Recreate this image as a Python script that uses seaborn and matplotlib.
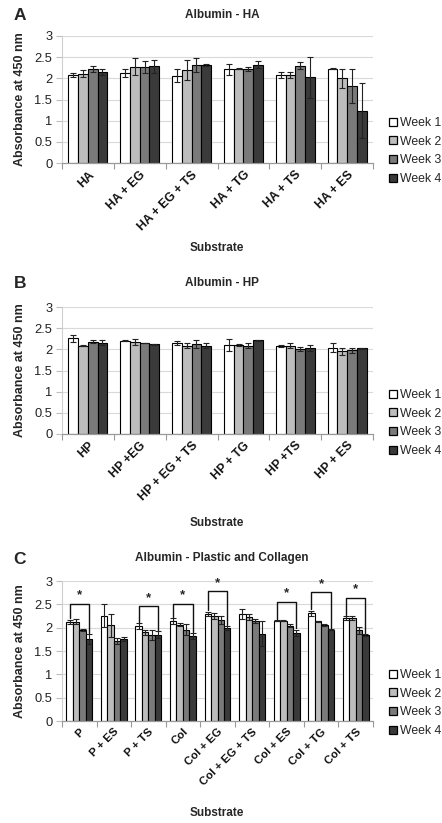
import numpy as np
import pandas as pd
import matplotlib
matplotlib.use("Agg")
import matplotlib.pyplot as plt
import seaborn as sns
from matplotlib.lines import Line2D
from matplotlib.container import BarContainer

sns.set_theme(style="white")
plt.rcParams['font.family'] = ['Liberation Sans', 'DejaVu Sans']

weeks = ["Week 1", "Week 2", "Week 3", "Week 4"]
week_colors = ["#ffffff", "#bdbdbd", "#7a7a7a", "#3a3a3a"]

# Panel A
ha_cats = ["HA", "HA + EG", "HA + EG + TS", "HA + TG", "HA + TS", "HA + ES"]
ha_means = [
    [2.08, 2.12, 2.06, 2.21, 2.08, 2.23],
    [2.11, 2.27, 2.20, 2.23, 2.07, 2.00],
    [2.22, 2.27, 2.31, 2.22, 2.30, 1.82],
    [2.15, 2.28, 2.31, 2.32, 2.02, 1.24],
]
ha_errs = [
    [0.04, 0.09, 0.15, 0.13, 0.08, 0.02],
    [0.08, 0.20, 0.23, 0.01, 0.07, 0.22],
    [0.08, 0.15, 0.17, 0.05, 0.08, 0.40],
    [0.06, 0.15, 0.02, 0.08, 0.48, 0.66],
]

# Panel B
hp_cats = ["HP", "HP +EG", "HP + EG + TS", "HP + TG", "HP +TS", "HP + ES"]
hp_means = [
    [2.26, 2.20, 2.15, 2.11, 2.08, 2.04],
    [2.09, 2.17, 2.08, 2.11, 2.09, 1.95],
    [2.18, 2.15, 2.12, 2.09, 2.01, 1.98],
    [2.16, 2.12, 2.09, 2.21, 2.03, 2.02],
]
hp_errs = [
    [0.09, 0.01, 0.04, 0.14, 0.02, 0.10],
    [0.02, 0.07, 0.06, 0.02, 0.05, 0.08],
    [0.04, 0.01, 0.10, 0.05, 0.05, 0.06],
    [0.06, 0.01, 0.07, 0.02, 0.07, 0.02],
]

# Panel C
pc_cats = ["P", "P + ES", "P + TS", "Col", "Col + EG", "Col + EG + TS",
           "Col + ES", "Col + TG", "Col + TS"]
pc_means = [
    [2.12, 2.26, 2.04, 2.14, 2.29, 2.29, 2.15, 2.31, 2.21],
    [2.13, 2.05, 1.90, 2.06, 2.25, 2.23, 2.15, 2.14, 2.20],
    [1.95, 1.71, 1.84, 1.96, 2.16, 2.14, 2.04, 2.06, 1.94],
    [1.76, 1.76, 1.85, 1.82, 1.99, 1.87, 1.89, 1.96, 1.84],
]
pc_errs = [
    [0.05, 0.24, 0.06, 0.06, 0.05, 0.10, 0.01, 0.05, 0.04],
    [0.05, 0.25, 0.06, 0.03, 0.07, 0.07, 0.01, 0.01, 0.04],
    [0.02, 0.07, 0.10, 0.12, 0.08, 0.05, 0.03, 0.02, 0.07],
    [0.10, 0.05, 0.07, 0.06, 0.04, 0.27, 0.07, 0.01, 0.02],
]
sig_groups = ["P", "P + TS", "Col", "Col + EG", "Col + ES", "Col + TG", "Col + TS"]
sig_heights = [2.51, 2.46, 2.51, 2.78, 2.56, 2.76, 2.64]

yticks = [0, 0.5, 1, 1.5, 2, 2.5, 3]
ytick_labels = ["0", "0.5", "1", "1.5", "2", "2.5", "3"]

W, H = 442, 823
fig = plt.figure(figsize=(W / 100, H / 100), dpi=100)


def px_axes(left, right, top, bottom):
    return fig.add_axes([left / W, 1 - bottom / H, (right - left) / W, (bottom - top) / H])


def draw_panel(ax, cats, means, errs, xfs):
    rows = []
    for wi, wk in enumerate(weeks):
        for ci, c in enumerate(cats):
            rows.append({"cat": c, "week": wk, "val": means[wi][ci]})
    df = pd.DataFrame(rows)
    sns.barplot(data=df, x="cat", y="val", hue="week", order=cats, hue_order=weeks,
                palette=week_colors, width=0.75, edgecolor="black", linewidth=0.8,
                errorbar=None, legend=False, ax=ax, saturation=1)
    bar_conts = [c for c in ax.containers if isinstance(c, BarContainer)]
    centers = []
    for wi, cont in enumerate(bar_conts):
        xs = [p.get_x() + p.get_width() / 2 for p in cont.patches]
        centers.append(xs)
    for wi, xs in enumerate(centers):
        ax.errorbar(xs, means[wi], yerr=errs[wi], fmt="none", ecolor="#222222",
                    elinewidth=0.8, capsize=2.3, capthick=0.8, zorder=5)
    n = len(cats)
    ax.set_xlim(-0.5, n - 0.5)
    ax.set_ylim(0, 3)
    ax.set_yticks(yticks)
    ax.set_yticklabels(ytick_labels, fontsize=9.3, color="#222222")
    ax.set_xticks(range(n))
    ax.set_xticklabels(cats, rotation=45, ha="right", rotation_mode="anchor",
                       fontsize=xfs, fontweight="bold", color="#111111")
    ax.set_xticks(np.arange(-0.5, n, 1), minor=True)
    ax.tick_params(axis="x", which="major", length=0, pad=4)
    ax.tick_params(axis="x", which="minor", length=4, color="#9a9a9a", width=0.8,
                   direction="out", bottom=True)
    ax.tick_params(axis="y", length=4, color="#bfbfbf", width=0.8, direction="out",
                   pad=3, left=True)
    ax.set_xlabel("")
    ax.set_ylabel("Absorbance at 450 nm", fontsize=9, fontweight="bold", labelpad=6)
    for s in ["top", "right"]:
        ax.spines[s].set_visible(False)
    ax.spines["left"].set_color("#cfcfcf")
    ax.spines["left"].set_linewidth(0.8)
    ax.spines["bottom"].set_color("#9a9a9a")
    ax.spines["bottom"].set_linewidth(0.9)
    for y in yticks[1:]:
        ax.axhline(y, color="#d9d9d9", linewidth=0.8, zorder=0)
    ax.set_axisbelow(True)
    return centers


def add_legend(ycenter):
    handles = [Line2D([0], [0], marker="s", linestyle="none", markersize=6,
                      markerfacecolor=c, markeredgecolor="black", markeredgewidth=0.9)
               for c in week_colors]
    fig.legend(handles, weeks, loc="center left",
               bbox_to_anchor=(388 / W, 1 - ycenter / H), frameon=False,
               fontsize=8.8, handlelength=0.8, handletextpad=0.2,
               labelspacing=0.55, borderpad=0, borderaxespad=0)


# Panel A
axA = px_axes(62, 373, 36, 163)
draw_panel(axA, ha_cats, ha_means, ha_errs, 8.8)
fig.text(222 / W, 1 - 15 / H, "Albumin - HA", ha="center", va="center",
         fontsize=8.5, fontweight="bold")
fig.text(20 / W, 1 - 16 / H, "A", ha="center", va="center", fontsize=12.5, fontweight="bold")
fig.text(217 / W, 1 - 248 / H, "Substrate", ha="center", va="center",
         fontsize=8.5, fontweight="bold")
add_legend(151)

# Panel B
axB = px_axes(62, 373, 307, 434)
draw_panel(axB, hp_cats, hp_means, hp_errs, 8.8)
fig.text(222 / W, 1 - 283 / H, "Albumin - HP", ha="center", va="center",
         fontsize=8.5, fontweight="bold")
fig.text(20 / W, 1 - 284 / H, "B", ha="center", va="center", fontsize=12.5, fontweight="bold")
fig.text(217 / W, 1 - 523 / H, "Substrate", ha="center", va="center",
         fontsize=8.5, fontweight="bold")
add_legend(423)

# Panel C
axC = px_axes(62, 373, 581, 721)
centers = draw_panel(axC, pc_cats, pc_means, pc_errs, 8.2)
fig.text(222 / W, 1 - 558 / H, "Albumin - Plastic and Collagen", ha="center", va="center",
         fontsize=8.5, fontweight="bold")
fig.text(20 / W, 1 - 559 / H, "C", ha="center", va="center", fontsize=12.5, fontweight="bold")
fig.text(217 / W, 1 - 813 / H, "Substrate", ha="center", va="center",
         fontsize=8.5, fontweight="bold")
add_legend(703)

for g, h in zip(sig_groups, sig_heights):
    ci = pc_cats.index(g)
    x1 = centers[0][ci]
    x4 = centers[3][ci]
    y1 = pc_means[0][ci] + pc_errs[0][ci] + 0.03
    y4 = pc_means[3][ci] + pc_errs[3][ci] + 0.03
    axC.plot([x1, x1, x4, x4], [y1, h, h, y4], color="#111111", linewidth=1.0,
             clip_on=False, zorder=6)
    axC.text((x1 + x4) / 2, h + 0.05, "*", ha="center", va="bottom",
             fontsize=9.5, fontweight="bold", clip_on=False)

fig.savefig("out.png", dpi=100, facecolor="white")
